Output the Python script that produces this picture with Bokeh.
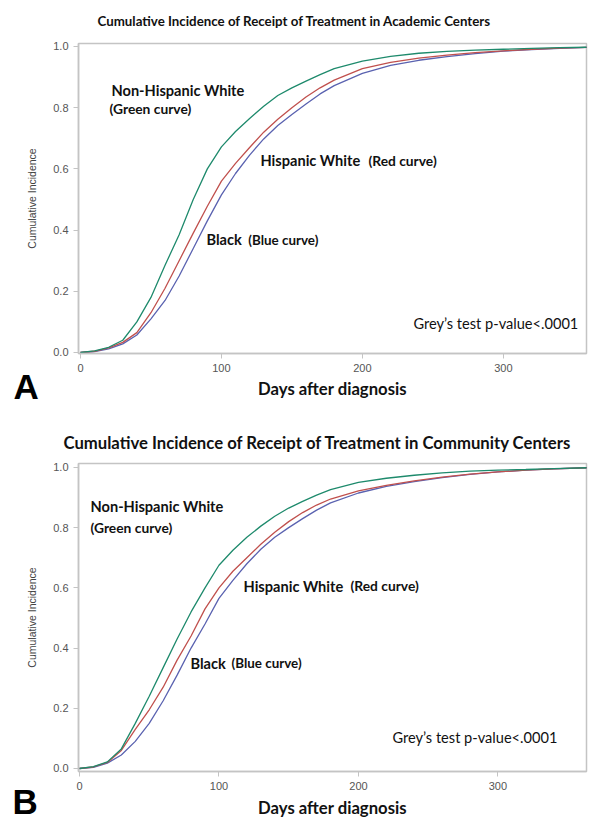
from bokeh.plotting import figure
from bokeh.models import Range1d, Label, FixedTicker, Title
from bokeh.layouts import column
from bokeh.embed import file_html
from bokeh.resources import INLINE

# ---------------- data ----------------
days = [0, 10, 20, 30, 40, 50, 60, 70, 80, 90, 100, 110, 120, 130, 140, 150, 160,
        170, 180, 200, 220, 240, 260, 280, 300, 320, 340, 365]

# Panel A: academic centers
a_nhw = [0, 0.005, 0.017, 0.040, 0.100, 0.180, 0.285, 0.385, 0.500, 0.600, 0.672, 0.722,
         0.765, 0.805, 0.840, 0.865, 0.887, 0.908, 0.928, 0.952, 0.968, 0.978, 0.984,
         0.988, 0.991, 0.994, 0.996, 0.998]
a_hw = [0, 0.004, 0.015, 0.033, 0.065, 0.130, 0.210, 0.300, 0.390, 0.478, 0.560, 0.618,
        0.670, 0.720, 0.762, 0.800, 0.835, 0.865, 0.890, 0.928, 0.948, 0.962, 0.972,
        0.980, 0.986, 0.991, 0.995, 0.998]
a_blk = [0, 0.003, 0.012, 0.028, 0.057, 0.110, 0.170, 0.250, 0.340, 0.430, 0.515, 0.585,
         0.645, 0.698, 0.742, 0.778, 0.812, 0.845, 0.872, 0.912, 0.938, 0.955, 0.967,
         0.977, 0.985, 0.990, 0.994, 0.998]

# Panel B: community centers
b_nhw = [0, 0.006, 0.022, 0.065, 0.150, 0.240, 0.335, 0.430, 0.520, 0.600, 0.675, 0.725,
         0.768, 0.805, 0.838, 0.865, 0.887, 0.908, 0.926, 0.950, 0.964, 0.974, 0.982,
         0.988, 0.991, 0.993, 0.996, 0.999]
b_hw = [0, 0.005, 0.020, 0.060, 0.130, 0.195, 0.270, 0.360, 0.440, 0.530, 0.600, 0.655,
        0.700, 0.745, 0.785, 0.820, 0.850, 0.875, 0.895, 0.922, 0.940, 0.955, 0.968,
        0.978, 0.985, 0.991, 0.995, 0.999]
b_blk = [0, 0.004, 0.018, 0.045, 0.090, 0.150, 0.225, 0.310, 0.400, 0.480, 0.565, 0.625,
         0.680, 0.728, 0.768, 0.800, 0.830, 0.858, 0.882, 0.915, 0.937, 0.953, 0.966,
         0.977, 0.985, 0.991, 0.995, 0.999]

x_ticks = [0, 100, 200, 300]
y_ticks = [0.0, 0.2, 0.4, 0.6, 0.8, 1.0]
y_tick_labels = ["0.0", "0.2", "0.4", "0.6", "0.8", "1.0"]

GREEN = "#1e8a6c"
RED = "#c0504d"
BLUE = "#5a62b0"
GRID = "#c4c4c4"
BOLD_FONT = "Lato"


def make_panel(title, title_size, title_offset, title_valign, title_standoff, x_rng,
               y_rng, height, top, bottom, xlabel_standoff, series, labels,
               letter, letter_offset, letter_standoff):
    p = figure(width=589, height=height, output_backend="svg", toolbar_location=None,
               x_range=Range1d(*x_rng), y_range=Range1d(*y_rng),
               min_border_left=78, min_border_right=3, min_border_top=top,
               min_border_bottom=bottom)
    p.title = Title(text=title, align="left", offset=title_offset,
                    vertical_align=title_valign,
                    text_font=BOLD_FONT, text_font_size=title_size,
                    text_font_style="bold", text_color="#111111",
                    standoff=title_standoff)
    p.xgrid.visible = False
    p.ygrid.visible = False
    p.outline_line_color = GRID
    p.outline_line_width = 1.5
    p.background_fill_color = "white"
    p.border_fill_color = "white"

    for ax in (p.xaxis[0], p.yaxis[0]):
        ax.axis_line_color = GRID
        ax.axis_line_width = 1.5
        ax.major_tick_line_color = GRID
        ax.major_tick_out = 5
        ax.major_tick_in = 0
        ax.minor_tick_line_color = None
        ax.major_label_text_font = "Liberation Sans"
        ax.major_label_text_font_size = "11px"
        ax.major_label_text_color = "#555555"

    p.xaxis.ticker = FixedTicker(ticks=x_ticks)
    p.yaxis.ticker = FixedTicker(ticks=y_ticks)
    p.yaxis.major_label_overrides = {t: s for t, s in zip(y_ticks, y_tick_labels)}

    p.xaxis.axis_label = "Days after diagnosis"
    p.xaxis.axis_label_text_font = BOLD_FONT
    p.xaxis.axis_label_text_font_style = "bold"
    p.xaxis.axis_label_text_font_size = "16.7px"
    p.xaxis.axis_label_text_color = "#111111"
    p.xaxis.axis_label_standoff = xlabel_standoff

    p.yaxis.axis_label = "Cumulative Incidence"
    p.yaxis.axis_label_text_font = "Liberation Sans"
    p.yaxis.axis_label_text_font_style = "normal"
    p.yaxis.axis_label_text_font_size = "10.5px"
    p.yaxis.axis_label_text_color = "#444444"
    p.yaxis.axis_label_standoff = 12

    for ys, col in series:
        p.line(days, ys, line_color=col, line_width=1.3)

    for txt, x, y, size, bold in labels:
        p.add_layout(Label(x=x, y=y, text=txt, text_font=BOLD_FONT,
                           text_font_size=size,
                           text_font_style="bold" if bold else "normal",
                           text_color="#111111", text_baseline="middle",
                           text_align="left"))

    # panel letter, placed in the panel below the x axis
    p.add_layout(Title(text=letter, align="left", offset=letter_offset,
                       vertical_align="top", standoff=letter_standoff,
                       text_font="Liberation Sans", text_font_size="35px",
                       text_font_style="bold", text_color="#000000"), "below")
    return p


pa = make_panel(
    "Cumulative Incidence of Receipt of Treatment in Academic Centers", "13.3px", 19,
    "top", 25,
    (-1.4, 359), (-0.0033, 1.0098), 408, 43, 55, 4,
    [(a_blk, BLUE), (a_hw, RED), (a_nhw, GREEN)],
    [("Non-Hispanic White", 22.0, 0.856, "14.6px", True),
     ("(Green curve)", 20.6, 0.797, "13.8px", True),
     ("Hispanic White", 127.7, 0.627, "14.6px", True),
     ("(Red curve)", 204.3, 0.627, "13.8px", True),
     ("Black", 89.4, 0.369, "14.6px", True),
     ("(Blue curve)", 119.1, 0.369, "13.4px", True),
     ("Grey\u2019s test p-value<.0001", 236.2, 0.095, "14.6px", False)],
    "A", -65, -70)

pb = make_panel(
    "Cumulative Incidence of Receipt of Treatment in Community Centers", "16.7px", -15,
    "bottom", 22,
    (-0.7, 363.5), (-0.01, 1.013), 412, 55, 48, 5,
    [(b_blk, BLUE), (b_hw, RED), (b_nhw, GREEN)],
    [("Non-Hispanic White", 7.9, 0.871, "14.6px", True),
     ("(Green curve)", 7.9, 0.801, "13.8px", True),
     ("Hispanic White", 117.6, 0.606, "14.6px", True),
     ("(Red curve)", 194.3, 0.609, "13.8px", True),
     ("Black", 79.6, 0.348, "14.6px", True),
     ("(Blue curve)", 109.0, 0.351, "13.4px", True),
     ("Grey\u2019s test p-value<.0001", 224.4, 0.103, "14.6px", False)],
    "B", -66, -78)

layout = column(pa, pb, spacing=0)
open("out.html", "w").write(file_html(layout, INLINE))
